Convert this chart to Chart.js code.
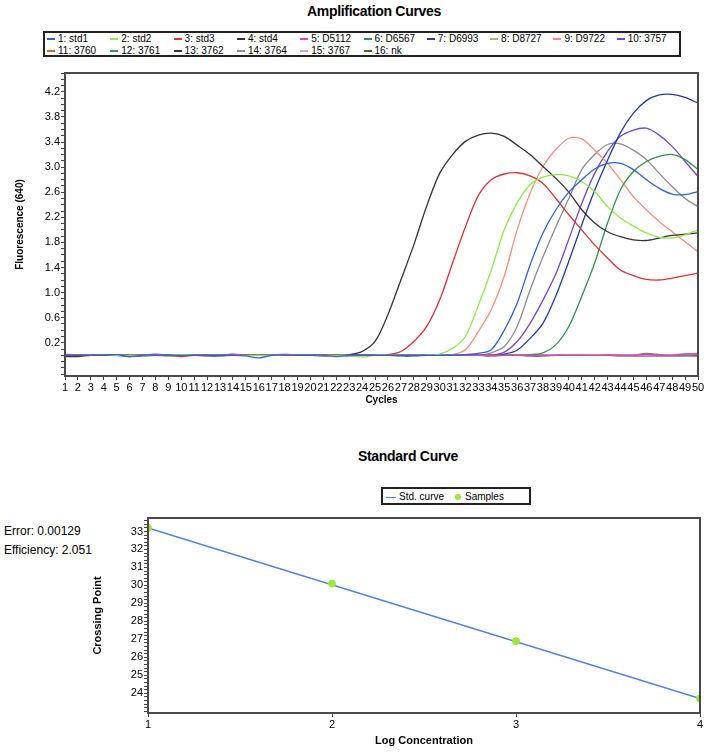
<!DOCTYPE html>
<html lang="en">
<head>
  <meta charset="UTF-8">
  <title>Amplification Curves / Standard Curve</title>
  <script src="https://cdn.jsdelivr.net/npm/chart.js"></script>
  <style>
    body {
      margin: 0;
      width: 708px;
      height: 752px;
      position: relative;
      background: #fff;
      font-family: "Liberation Sans", Arial, sans-serif;
      color: #000;
      overflow: hidden;
    }
    .ttl {
      position: absolute;
      font-weight: bold;
      font-size: 14px;
      letter-spacing: -0.3px;
      white-space: nowrap;
      transform: translateX(-50%);
    }
    .lg {
      position: absolute;
      border: 2px solid #222;
      box-sizing: border-box;
      font-size: 10px;
      background: #fff;
    }
    .lg .item {
      position: absolute;
      white-space: nowrap;
      line-height: 11px;
    }
    .lg .swatch {
      display: inline-block;
      width: 8px;
      height: 2px;
      margin-right: 3px;
      vertical-align: middle;
    }
    .lg .dot {
      display: inline-block;
      width: 6px;
      height: 6px;
      border-radius: 50%;
      margin-right: 4px;
      vertical-align: middle;
    }
    .note {
      position: absolute;
      left: 4px;
      font-size: 12px;
      white-space: nowrap;
    }
    .box {
      position: absolute;
      left: 0;
    }
  </style>
</head>
<body>
  <div class="ttl" style="left:374px; top:3px;">Amplification Curves</div>
  <div id="legend1" class="lg" style="left:43px; top:31px; width:638px; height:26px;"></div>
  <div class="box" style="top:60px;"><canvas id="ampChart" width="708" height="350"></canvas></div>

  <div class="ttl" style="left:408px; top:448px;">Standard Curve</div>
  <div id="legend2" class="lg" style="left:381px; top:487px; width:150px; height:18px;"></div>
  <div class="note" style="top:524px;">Error: 0.00129</div>
  <div class="note" style="top:543px;">Efficiency: 2.051</div>
  <div class="box" style="top:505px;"><canvas id="stdChart" width="708" height="247"></canvas></div>

  <script>
    // ---- amplification data (fluorescence per cycle) ----
    const cycles = [1,2,3,4,5,6,7,8,9,10,11,12,13,14,15,16,17,18,19,20,21,22,23,24,25,
                    26,27,28,29,30,31,32,33,34,35,36,37,38,39,40,41,42,43,44,45,46,47,48,49,50];

    const std1 = [0.00,0.00,0.00,0.00,0.01,-0.02,0.00,0.00,0.00,0.00,0.00,0.00,0.00,0.00,-0.01,-0.04,0.00,0.00,0.00,0.00,
                  0.00,-0.02,0.00,0.00,0.00,0.00,0.00,0.00,0.00,0.00,0.00,0.01,0.03,0.09,0.40,0.83,1.44,1.95,2.32,2.60,
                  2.80,2.97,3.06,3.06,2.96,2.80,2.66,2.57,2.56,2.61];
    const std2 = [0.00,0.00,0.00,0.00,0.00,0.00,0.00,0.00,0.00,0.01,0.00,0.00,0.00,0.00,0.00,0.00,0.00,0.00,0.00,0.00,
                  0.00,0.00,0.00,-0.03,0.00,0.00,0.00,0.00,0.00,0.02,0.11,0.30,0.80,1.36,2.00,2.43,2.72,2.84,2.88,2.86,
                  2.77,2.61,2.37,2.19,2.06,1.95,1.88,1.87,1.92,2.00];
    const std3 = [0.00,0.00,0.00,0.00,0.00,0.00,0.00,0.00,0.00,-0.02,0.00,0.00,0.00,0.00,0.00,0.00,0.00,0.00,0.00,0.00,
                  0.00,0.00,0.00,0.00,0.00,0.01,0.06,0.22,0.46,0.88,1.47,2.05,2.55,2.80,2.89,2.91,2.86,2.74,2.50,2.24,
                  2.00,1.76,1.55,1.36,1.27,1.21,1.20,1.23,1.27,1.31];
    const std4 = [0.00,0.00,0.00,0.00,0.00,0.00,0.00,0.00,0.00,0.00,0.00,0.00,0.00,0.00,0.00,0.00,0.00,0.00,0.00,0.00,
                  0.00,0.00,0.01,0.06,0.22,0.65,1.20,1.76,2.38,2.90,3.20,3.41,3.51,3.54,3.49,3.35,3.20,3.01,2.82,2.60,
                  2.32,2.11,1.97,1.89,1.84,1.83,1.87,1.91,1.93,1.95];
    const d5112 = [0.01,0.01,0.00,0.00,0.00,0.00,0.00,0.02,0.00,0.00,0.00,0.00,0.00,0.02,0.00,0.00,0.00,0.01,0.00,0.00,
                   0.01,0.00,0.00,0.00,0.00,0.00,0.00,0.00,0.00,0.00,0.00,0.00,0.00,0.00,0.00,0.00,0.00,0.00,0.00,0.00,
                   0.00,0.00,0.00,0.00,0.00,0.01,0.00,0.00,0.02,0.02];
    const d6567 = [0.02,0.00,0.00,0.00,0.00,0.00,0.00,0.00,0.01,0.00,0.00,0.00,0.00,0.00,0.00,0.00,0.00,0.00,0.00,0.00,
                   0.00,0.00,0.00,0.00,0.00,0.00,0.00,0.00,0.00,0.00,0.00,0.00,0.00,0.00,0.00,0.00,0.01,0.04,0.17,0.46,
                   0.94,1.47,2.11,2.64,2.93,3.09,3.17,3.20,3.12,2.96];
    const d6993 = [0.00,0.00,0.00,0.00,0.00,-0.02,0.00,0.00,0.00,0.00,0.00,0.00,0.00,0.00,0.00,0.00,0.00,0.00,0.00,0.00,
                   0.00,0.00,0.00,0.00,0.00,0.00,0.00,0.00,0.00,0.00,0.00,0.00,0.00,0.00,0.02,0.08,0.27,0.51,0.95,1.50,
                   2.08,2.63,3.11,3.55,3.86,4.06,4.15,4.16,4.11,4.02];
    const d8727 = [0.00,0.01,0.00,0.00,0.00,0.00,0.00,0.00,0.00,0.00,0.00,0.00,0.01,0.00,0.00,0.00,0.00,0.00,0.00,0.00,
                   0.00,0.00,0.00,0.00,0.00,0.00,0.00,0.00,0.00,0.01,0.00,0.00,0.00,0.00,0.00,0.00,0.00,0.00,0.00,0.00,
                   0.00,0.01,0.00,0.00,0.01,0.00,0.00,0.01,0.01,0.02];
    const d9722 = [0.00,0.00,0.00,0.00,0.00,0.00,0.00,0.00,0.00,0.00,0.00,0.00,0.00,0.00,0.00,0.00,0.00,0.02,0.00,0.00,
                   0.00,0.00,0.00,0.00,0.00,0.00,0.00,0.00,0.00,0.00,0.01,0.09,0.38,0.73,1.26,2.00,2.58,3.01,3.28,3.46,
                   3.45,3.27,3.06,2.80,2.53,2.32,2.13,1.97,1.81,1.65];
    const s3757 = [0.00,0.00,0.00,0.00,0.00,0.00,0.00,0.00,0.00,0.00,0.00,0.00,0.00,0.00,0.00,0.00,0.00,0.00,0.00,0.00,
                   0.00,0.00,-0.01,0.00,0.00,0.00,0.00,0.00,0.00,0.00,0.00,0.00,0.00,0.00,0.05,0.22,0.51,0.88,1.30,1.85,
                   2.42,2.90,3.25,3.49,3.59,3.62,3.51,3.33,3.09,2.85];
    const s3760 = [0.00,0.00,0.01,0.01,0.00,0.00,0.00,0.00,0.00,0.00,0.00,0.00,0.00,0.00,0.00,0.00,0.00,0.00,0.00,0.00,
                   0.00,0.00,0.00,0.00,0.00,0.00,0.00,0.00,0.00,0.00,0.00,0.00,0.00,0.00,0.00,0.00,0.00,0.00,0.00,0.00,
                   0.00,0.01,0.01,0.00,0.00,0.00,0.00,0.01,0.02,0.03];
    const s3761 = [0.00,0.00,0.00,0.00,0.00,0.00,0.00,0.00,-0.01,0.00,0.00,0.00,0.00,0.00,0.00,0.00,0.00,0.00,0.00,0.00,
                   0.00,0.00,0.00,0.00,0.00,0.00,0.00,0.00,0.00,0.00,0.00,0.00,0.00,0.00,0.00,0.00,0.00,0.00,0.00,0.00,
                   0.00,0.00,0.00,0.00,0.00,0.00,0.00,0.00,0.00,0.01];
    const s3762 = [-0.02,-0.02,0.00,0.00,0.00,0.00,-0.01,0.00,0.00,0.00,0.00,-0.01,-0.01,0.00,0.00,0.00,0.00,0.00,0.00,0.00,
                   -0.01,0.00,0.00,0.00,0.00,0.00,-0.01,-0.01,0.00,0.00,0.00,0.00,0.00,-0.01,0.00,0.00,-0.01,-0.01,0.00,0.00,
                   0.00,0.00,0.00,-0.01,-0.01,-0.01,-0.01,-0.01,-0.01,-0.01];
    const s3764 = [0.00,0.00,0.00,0.00,0.00,0.00,0.00,0.00,0.00,0.00,0.00,0.00,0.00,0.00,0.00,0.00,0.00,0.00,0.00,0.00,
                   0.00,0.00,0.00,0.00,0.00,0.00,0.00,0.00,0.00,0.00,0.00,0.00,0.00,0.04,0.14,0.46,1.04,1.57,2.05,2.50,
                   2.96,3.20,3.36,3.37,3.27,3.12,2.90,2.69,2.50,2.37];
    const s3767 = [0.00,0.00,0.00,0.00,0.00,0.00,0.00,0.02,0.00,0.00,0.00,0.00,0.00,0.02,0.00,0.00,0.00,0.02,0.00,0.00,
                   0.00,0.00,0.00,0.00,0.00,0.00,0.00,0.00,0.00,0.00,0.00,0.00,0.00,0.00,0.00,0.00,0.00,0.00,0.00,0.00,
                   0.00,0.00,0.00,0.00,0.00,0.02,0.00,0.00,0.02,0.01];
    const nk = [0.01,0.00,0.00,0.00,0.00,0.00,0.00,0.00,0.00,0.00,0.00,0.00,0.00,0.00,0.00,0.00,0.00,0.00,0.00,0.00,
                0.00,0.00,0.00,0.00,0.00,0.00,0.00,0.00,0.00,0.00,0.00,0.00,0.00,0.00,0.00,0.00,0.00,0.00,0.00,0.00,
                0.00,0.00,0.00,0.00,0.00,0.03,0.01,0.00,0.01,0.02];

    const seriesNames = ['1: std1','2: std2','3: std3','4: std4','5: D5112','6: D6567','7: D6993','8: D8727',
                         '9: D9722','10: 3757','11: 3760','12: 3761','13: 3762','14: 3764','15: 3767','16: nk'];
    const seriesValues = [std1, std2, std3, std4, d5112, d6567, d6993, d8727,
                          d9722, s3757, s3760, s3761, s3762, s3764, s3767, nk];
    const seriesColors = ['#2f62d6','#8fe84c','#e03232','#333333','#e040c8','#35904c','#1f3ca6','#a6b496',
                          '#f4907e','#7445e0','#c4682e','#3f8878','#4a2f3a','#8c8c8c','#c2a4ee','#3d6b22'];
    const fluorTicks = [0.2,0.6,1.0,1.4,1.8,2.2,2.6,3.0,3.4,3.8,4.2];

    // ---- standard curve data ----
    const logConc = [1, 2, 3, 4];
    const crossingPoints = [33.2, 30.1, 26.9, 23.7];
    const stdCurveEnds = [33.2, 23.7];
    const cpTicks = [24,25,26,27,28,29,30,31,32,33];

    const baseFont = "'Liberation Sans', Arial, sans-serif";

    // frame round the plot area
    const framePlugin = {
      id: 'frame',
      afterDraw(chart) {
        const a = chart.chartArea;
        const ctx = chart.ctx;
        ctx.save();
        ctx.strokeStyle = '#4a4a4a';
        ctx.lineWidth = 2;
        ctx.strokeRect(a.left, a.top, a.right - a.left, a.bottom - a.top);
        ctx.restore();
      }
    };

    function minorTicks(from, to, step) {
      const out = [];
      for (let v = from; v <= to + 1e-9; v += step) out.push({ value: Math.round(v * 100) / 100 });
      return out;
    }

    // ---- amplification chart ----
    const ampChart = new Chart(document.getElementById('ampChart'), {
      type: 'line',
      data: {
        labels: cycles,
        datasets: seriesNames.map((name, i) => ({
          label: name,
          data: seriesValues[i],
          borderColor: seriesColors[i],
          backgroundColor: seriesColors[i],
          borderWidth: 1.3,
          pointRadius: 0,
          tension: 0.3,
          fill: false
        }))
      },
      options: {
        responsive: false,
        animation: false,
        layout: { padding: { top: 13, right: 10, left: 0, bottom: 0 } },
        plugins: { legend: { display: false }, title: { display: false }, tooltip: { enabled: false } },
        scales: {
          x: {
            offset: false,
            grid: { drawOnChartArea: false, tickLength: 4, color: '#444' },
            border: { display: true, color: '#4a4a4a', width: 2 },
            ticks: { autoSkip: false, maxRotation: 0, minRotation: 0, padding: 1,
                     color: '#000', font: { family: baseFont, size: 11 } },
            title: { display: true, text: 'Cycles', color: '#000', padding: { top: 4, bottom: 4 },
                     font: { family: baseFont, size: 10, weight: 'bold' } },
            afterFit(scale) { scale.height = 34; scale.paddingLeft = 0; scale.paddingRight = 0; }
          },
          y: {
            min: -0.33,
            max: 4.5,
            afterBuildTicks(scale) { scale.ticks = minorTicks(-0.3, 4.5, 0.1); },
            grid: { drawOnChartArea: false, tickLength: 4, color: '#444' },
            border: { display: true, color: '#4a4a4a', width: 2 },
            ticks: {
              autoSkip: false,
              padding: 1, color: '#000', font: { family: baseFont, size: 11 },
              callback(value) {
                const hit = fluorTicks.find(t => Math.abs(t - value) < 1e-6);
                return hit === undefined ? '' : hit.toFixed(1);
              }
            },
            title: { display: true, text: 'Fluorescence (640)', color: '#000', padding: { top: 14, bottom: 4 },
                     font: { family: baseFont, size: 10, weight: 'bold' } },
            afterFit(scale) { scale.width = 65; scale.paddingTop = 0; scale.paddingBottom = 0; }
          }
        }
      },
      plugins: [framePlugin]
    });

    // ---- standard curve chart ----
    const stdChart = new Chart(document.getElementById('stdChart'), {
      type: 'scatter',
      data: {
        datasets: [
          {
            label: 'Std. curve',
            type: 'line',
            data: [{ x: logConc[0], y: stdCurveEnds[0] }, { x: logConc[logConc.length - 1], y: stdCurveEnds[1] }],
            borderColor: '#4f7fe0',
            backgroundColor: '#4f7fe0',
            borderWidth: 1.5,
            pointRadius: 0,
            order: 2
          },
          {
            label: 'Samples',
            data: logConc.map((x, i) => ({ x, y: crossingPoints[i] })),
            backgroundColor: '#9ce83c',
            borderColor: '#9ce83c',
            pointRadius: 3.5,
            pointStyle: 'circle',
            order: 1
          }
        ]
      },
      options: {
        responsive: false,
        animation: false,
        layout: { padding: { top: 13, right: 8, left: 0, bottom: 0 } },
        plugins: { legend: { display: false }, title: { display: false }, tooltip: { enabled: false } },
        scales: {
          x: {
            type: 'linear',
            min: 1,
            max: 4,
            afterBuildTicks(scale) { scale.ticks = logConc.map(v => ({ value: v })); },
            grid: { drawOnChartArea: false, tickLength: 4, color: '#444' },
            border: { display: true, color: '#4a4a4a', width: 2 },
            ticks: { autoSkip: false, padding: 1, color: '#000', font: { family: baseFont, size: 11 } },
            title: { display: true, text: 'Log Concentration', color: '#000', padding: { top: 4, bottom: 4 },
                     font: { family: baseFont, size: 11, weight: 'bold' } },
            afterFit(scale) { scale.height = 39; scale.paddingLeft = 0; scale.paddingRight = 0; }
          },
          y: {
            min: 22.9,
            max: 33.75,
            afterBuildTicks(scale) { scale.ticks = minorTicks(23, 33.6, 0.2); },
            grid: { drawOnChartArea: false, tickLength: 4, color: '#444' },
            border: { display: true, color: '#4a4a4a', width: 2 },
            ticks: {
              autoSkip: false,
              padding: 1, color: '#000', font: { family: baseFont, size: 11 },
              callback(value) { return cpTicks.includes(Math.round(value * 100) / 100) ? String(value) : ''; }
            },
            title: { display: true, text: 'Crossing Point', color: '#000', padding: { top: 91, bottom: 4 },
                     font: { family: baseFont, size: 11, weight: 'bold' } },
            afterFit(scale) { scale.width = 148; scale.paddingTop = 0; scale.paddingBottom = 0; }
          }
        }
      },
      plugins: [framePlugin]
    });

    // ---- HTML legends built from the chart datasets ----
    const lg1 = document.getElementById('legend1');
    ampChart.data.datasets.forEach((ds, i) => {
      const col = i % 10, row = Math.floor(i / 10);
      const el = document.createElement('div');
      el.className = 'item';
      el.style.left = (2 + col * 63.3) + 'px';
      el.style.top = (0 + row * 11.5) + 'px';
      el.innerHTML = '<span class="swatch" style="background:' + ds.borderColor + '"></span>' + ds.label;
      lg1.appendChild(el);
    });

    const lg2 = document.getElementById('legend2');
    const lineItem = document.createElement('div');
    lineItem.className = 'item';
    lineItem.style.left = '3px';
    lineItem.style.top = '2px';
    lineItem.innerHTML = '<span class="swatch" style="width:10px;height:1.5px;background:' +
      stdChart.data.datasets[0].borderColor + '"></span>' + stdChart.data.datasets[0].label;
    lg2.appendChild(lineItem);
    const dotItem = document.createElement('div');
    dotItem.className = 'item';
    dotItem.style.left = '72px';
    dotItem.style.top = '2px';
    dotItem.innerHTML = '<span class="dot" style="background:' +
      stdChart.data.datasets[1].backgroundColor + '"></span>' + stdChart.data.datasets[1].label;
    lg2.appendChild(dotItem);
  </script>
</body>
</html>
